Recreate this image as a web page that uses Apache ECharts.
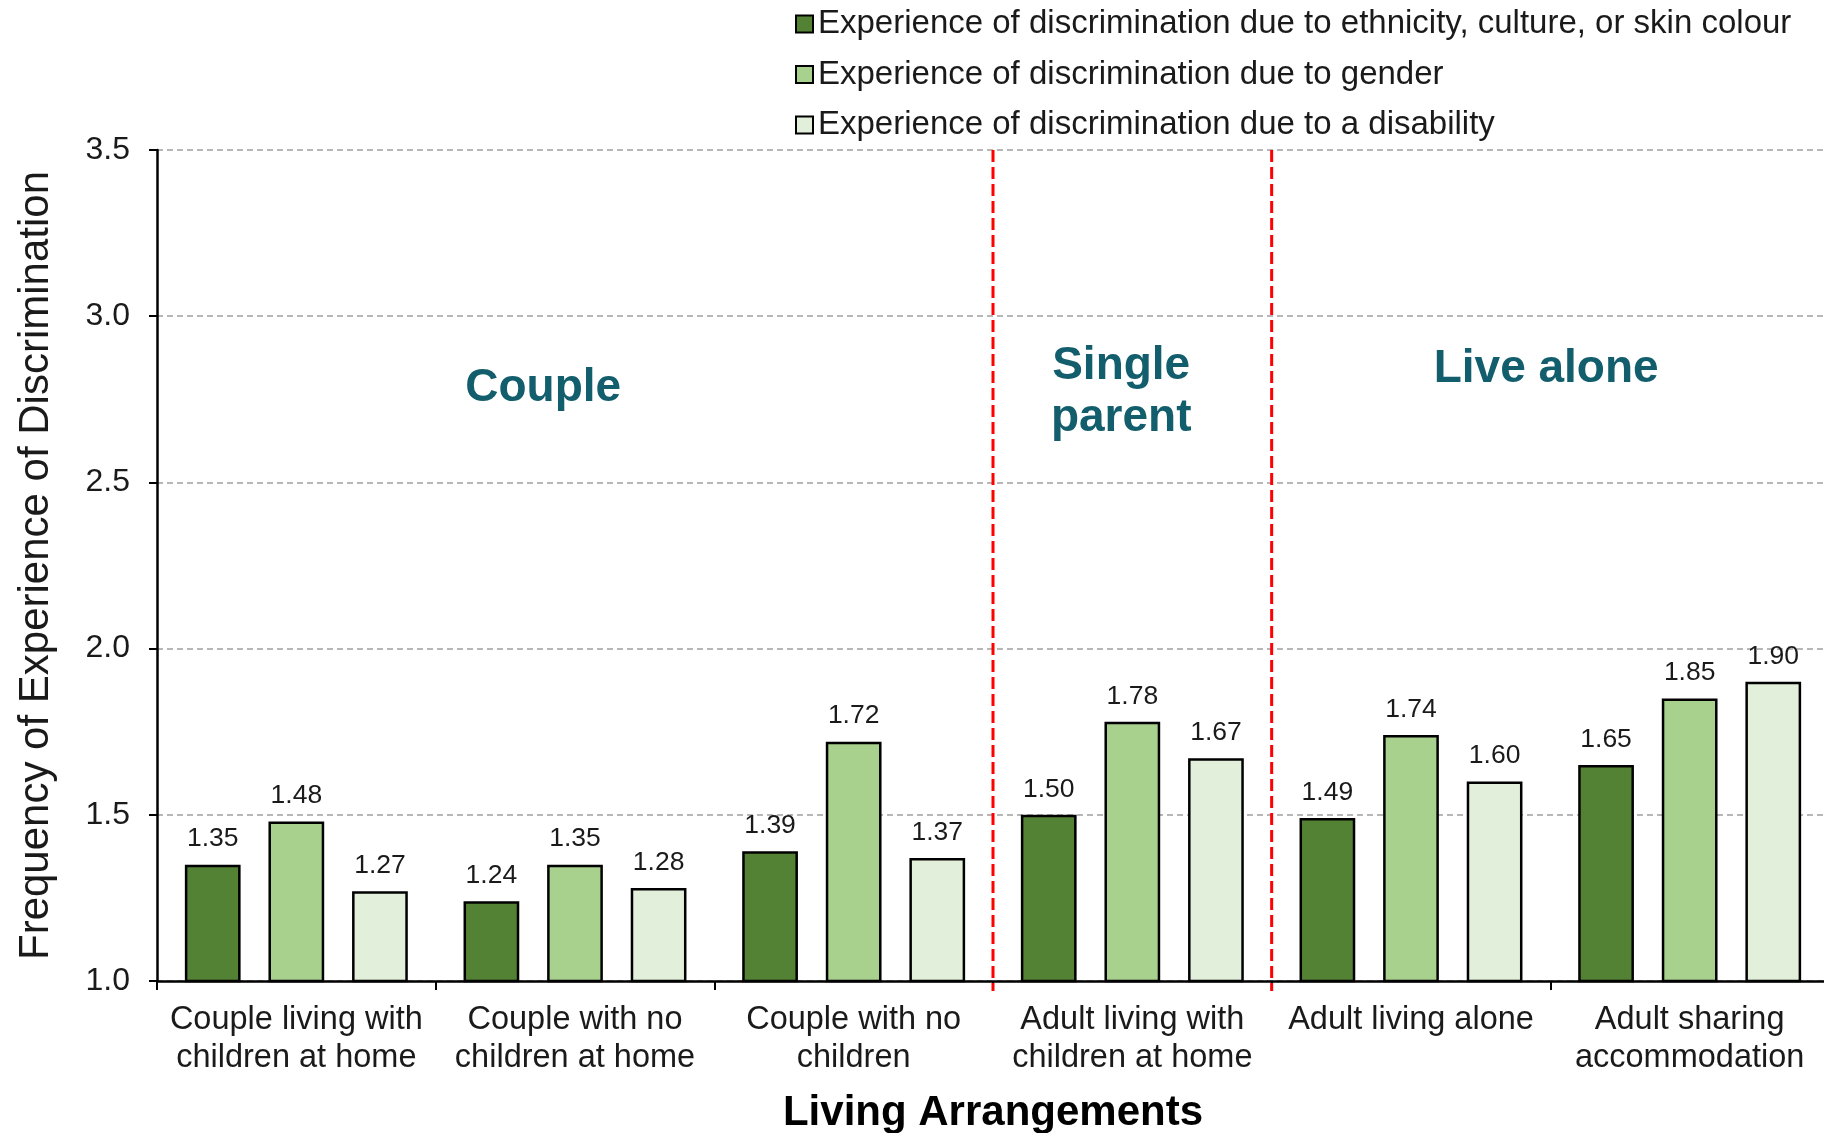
<!DOCTYPE html>
<html>
<head>
<meta charset="utf-8">
<script src="https://cdn.jsdelivr.net/npm/echarts@6/dist/echarts.min.js"></script>
<style>
html,body{margin:0;padding:0;background:#fff;}
#chart{width:1824px;height:1133px;}
</style>
</head>
<body>
<div id="chart"></div>
<script>
var categories = [
  'Couple living with\nchildren at home',
  'Couple with no\nchildren at home',
  'Couple with no\nchildren',
  'Adult living with\nchildren at home',
  'Adult living alone',
  'Adult sharing\naccommodation'
];
var seriesNames = [
  'Experience of discrimination due to ethnicity, culture, or skin colour',
  'Experience of discrimination due to gender',
  'Experience of discrimination due to a disability'
];
var ethnicity = [1.35, 1.24, 1.39, 1.50, 1.49, 1.65];
var gender = [1.48, 1.35, 1.72, 1.78, 1.74, 1.85];
var disability = [1.27, 1.28, 1.37, 1.67, 1.60, 1.90];
var yTicks = [1.0, 1.5, 2.0, 2.5, 3.0, 3.5];
// group separators (category boundary index)
var separators = [3, 4];
// group annotations: [x position in category units, y value, text]
var groupLabels = [
  [1.386, 2.783, 'Couple'],
  [3.46, 2.77, 'Single\nparent'],
  [4.985, 2.84, 'Live alone']
];

var FONT = "'Liberation Sans', Arial, sans-serif";
var colors = ['#548235', '#A9D18E', '#E2EFDA'];

function barSeries(name, data, color) {
  return {
    name: name,
    type: 'bar',
    data: data,
    barCategoryGap: '20%',
    barGap: '50%',
    itemStyle: { color: color, borderColor: '#000', borderWidth: 2.5 },
    label: {
      show: true, position: 'top', distance: 12,
      fontFamily: FONT, fontSize: 26.5, color: '#1a1a1a',
      formatter: function (p) { return p.value.toFixed(2); }
    }
  };
}

var chart = echarts.init(document.getElementById('chart'));
chart.setOption({
  animation: false,
  backgroundColor: '#fff',
  textStyle: { fontFamily: FONT },
  legend: {
    orient: 'vertical',
    left: 790, top: 1,
    itemWidth: 17, itemHeight: 17,
    itemGap: 14.5,
    itemTextGap: 8,
    icon: 'rect',
    data: seriesNames,
    itemStyle: { borderColor: '#000', borderWidth: 2 },
    textStyle: { fontFamily: FONT, fontSize: 33, color: '#1a1a1a', lineHeight: 36 }
  },
  grid: { left: 157, top: 150, bottom: 152, right: -5, containLabel: false, outerBoundsMode: 'none' },
  xAxis: [{
    type: 'category',
    data: categories,
    axisLine: { lineStyle: { color: '#000', width: 2.5 } },
    axisTick: { show: true, length: 9, lineStyle: { color: '#000', width: 2 } },
    axisLabel: { fontFamily: FONT, fontSize: 32.5, color: '#1a1a1a', lineHeight: 38, margin: 20, interval: 0 },
    name: 'Living Arrangements',
    nameLocation: 'middle',
    nameGap: 111,
    nameTextStyle: { fontFamily: FONT, fontSize: 42, fontWeight: 'bold', color: '#000' }
  }, {
    type: 'value', min: 0, max: 6, show: false
  }],
  yAxis: {
    type: 'value',
    min: yTicks[0], max: yTicks[yTicks.length - 1], interval: 0.5,
    axisLine: { show: true, lineStyle: { color: '#000', width: 2.5 } },
    axisTick: { show: true, length: 8, lineStyle: { color: '#000', width: 2 } },
    axisLabel: {
      fontFamily: FONT, fontSize: 32, color: '#1a1a1a', margin: 27,
      formatter: function (v) { return v.toFixed(1); }
    },
    splitLine: { show: true, lineStyle: { color: '#a0a0a0', width: 1.5, type: [6, 4] } },
    name: 'Frequency of Experience of Discrimination',
    nameLocation: 'middle',
    nameGap: 100,
    nameTextStyle: { fontFamily: FONT, fontSize: 42, color: '#1a1a1a' }
  },
  series: [
    barSeries(seriesNames[0], ethnicity, colors[0]),
    barSeries(seriesNames[1], gender, colors[1]),
    barSeries(seriesNames[2], disability, colors[2]),
    {
      type: 'custom',
      xAxisIndex: 1,
      yAxisIndex: 0,
      silent: true,
      z: 5,
      data: separators.map(function (s) { return [s]; }),
      renderItem: function (params, api) {
        var x = api.value(0);
        var p1 = api.coord([x, yTicks[yTicks.length - 1]]);
        var p2 = api.coord([x, yTicks[0]]);
        return {
          type: 'line',
          shape: { x1: p1[0], y1: p1[1], x2: p2[0], y2: p2[1] + 10 },
          style: { stroke: '#FF0000', lineWidth: 3, lineDash: [12, 5] }
        };
      }
    },
    {
      type: 'scatter',
      xAxisIndex: 1,
      yAxisIndex: 0,
      silent: true,
      symbolSize: 1,
      itemStyle: { color: 'rgba(0,0,0,0)', opacity: 1 },
      data: groupLabels,
      label: {
        show: true, position: 'inside',
        fontFamily: FONT, fontSize: 46, fontWeight: 'bold', color: '#135E6C',
        lineHeight: 52, align: 'center', verticalAlign: 'middle',
        formatter: function (p) { return p.data[2]; }
      }
    }
  ]
});
</script>
</body>
</html>
